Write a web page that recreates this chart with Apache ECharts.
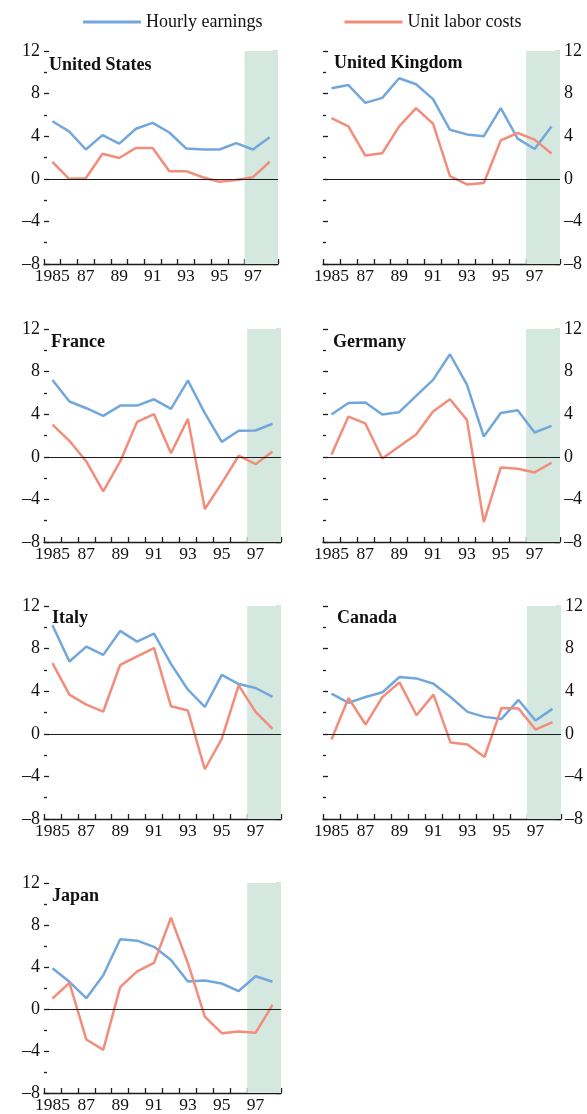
<!DOCTYPE html>
<html>
<head>
<meta charset="utf-8">
<script src="https://cdn.jsdelivr.net/npm/echarts@6/dist/echarts.min.js"></script>
<style>
  html, body { margin: 0; padding: 0; background: #ffffff; }
  #chart { width: 587px; height: 1114px; }
</style>
</head>
<body>
<div id="chart"></div>
<script>
// Annual percent change, 1985–98; the last two years are shaded as projections.
const years = ['1985', '86', '87', '88', '89', '90', '91', '92', '93', '94', '95', '96', '97', '98'];
const countries = ['United States', 'United Kingdom', 'France', 'Germany', 'Italy', 'Canada', 'Japan'];
const seriesNames = ['Hourly earnings', 'Unit labor costs'];

const hourlyUS = [5.4, 4.45, 2.75, 4.1, 3.3, 4.7, 5.25, 4.35, 2.85, 2.75, 2.75, 3.35, 2.75, 3.9];
const unitLaborUS = [1.6, 0.0, 0.05, 2.35, 1.95, 2.9, 2.9, 0.7, 0.72, 0.15, -0.28, -0.12, 0.15, 1.6];

const hourlyUK = [8.5, 8.8, 7.13, 7.6, 9.44, 8.88, 7.48, 4.6, 4.17, 4.0, 6.63, 3.77, 2.8, 4.92];
const unitLaborUK = [5.7, 4.92, 2.18, 2.4, 4.92, 6.63, 5.17, 0.25, -0.53, -0.4, 3.6, 4.3, 3.68, 2.37];

const hourlyFR = [7.22, 5.19, 4.56, 3.84, 4.81, 4.81, 5.4, 4.5, 7.16, 4.1, 1.4, 2.44, 2.47, 3.1];
const unitLaborFR = [3.03, 1.5, -0.44, -3.25, -0.44, 3.28, 4.0, 0.34, 3.56, -4.9, -2.47, 0.1, -0.69, 0.5];

const hourlyDE = [3.97, 5.06, 5.1, 3.97, 4.19, 5.72, 7.22, 9.63, 6.78, 1.9, 4.12, 4.38, 2.28, 2.9];
const unitLaborDE = [0.19, 3.78, 3.13, -0.16, 0.97, 2.1, 4.25, 5.4, 3.47, -6.13, -1.0, -1.13, -1.47, -0.56];

const hourlyIT = [10.2, 6.79, 8.19, 7.41, 9.66, 8.66, 9.41, 6.57, 4.14, 2.52, 5.54, 4.67, 4.3, 3.46];
const unitLaborIT = [6.64, 3.68, 2.74, 2.09, 6.48, 7.26, 8.04, 2.59, 2.18, -3.33, -0.47, 4.55, 2.06, 0.47];

const hourlyCA = [3.77, 2.9, 3.46, 3.9, 5.33, 5.2, 4.7, 3.46, 2.06, 1.59, 1.4, 3.18, 1.25, 2.34];
const unitLaborCA = [-0.53, 3.36, 0.87, 3.46, 4.83, 1.74, 3.68, -0.81, -1.0, -2.18, 2.43, 2.37, 0.4, 1.09];

const hourlyJP = [3.89, 2.59, 1.03, 3.21, 6.64, 6.51, 5.92, 4.67, 2.62, 2.71, 2.43, 1.71, 3.12, 2.59];
const unitLaborJP = [1.0, 2.49, -2.9, -3.89, 2.09, 3.58, 4.39, 8.69, 4.36, -0.72, -2.3, -2.15, -2.27, 0.4];

const hourly = [hourlyUS, hourlyUK, hourlyFR, hourlyDE, hourlyIT, hourlyCA, hourlyJP];
const unitLabor = [unitLaborUS, unitLaborUK, unitLaborFR, unitLaborDE, unitLaborIT, unitLaborCA, unitLaborJP];

const yTickValues = [-8, -4, 0, 4, 8, 12];
const yTickLabels = ['\u20138', '\u20134', '0', '4', '8', '12'];
// projection band, in category slots (1997 and 1998)
const projectedFrom = 12;
const projectedTo = 14;

// panel placement (pixels)
const panels = [
  { left: 44,  top: 51,  width: 234, side: 'left',  titleLeft: 49,  titleTop: 56 },
  { left: 323, top: 51,  width: 237, side: 'right', titleLeft: 334, titleTop: 54 },
  { left: 44,  top: 329, width: 237, side: 'left',  titleLeft: 51,  titleTop: 333 },
  { left: 323, top: 329, width: 237, side: 'right', titleLeft: 333, titleTop: 333 },
  { left: 44,  top: 606, width: 237, side: 'left',  titleLeft: 52,  titleTop: 609 },
  { left: 323, top: 606, width: 238, side: 'right', titleLeft: 337, titleTop: 609 },
  { left: 44,  top: 883, width: 237, side: 'left',  titleLeft: 52,  titleTop: 887 }
];
const PANEL_HEIGHT = 213;

const FONT = '"Liberation Serif", "Times New Roman", Times, serif';
const INK = '#1c1c1c';
const BLUE = '#72a7dc';
const RED = '#f28d7b';
const SHADE = '#d4e8df';

const grid = [], xAxis = [], yAxis = [], series = [], title = [];

panels.forEach((p, i) => {
  grid.push({ left: p.left, top: p.top, width: p.width, height: PANEL_HEIGHT, containLabel: false });

  title.push({
    text: countries[i], left: p.titleLeft, top: p.titleTop, padding: 0,
    textStyle: { fontFamily: FONT, fontSize: 18, fontWeight: 'bold', color: '#111' }
  });

  // visible year axis along the bottom of the panel
  xAxis.push({
    type: 'category', gridIndex: i, data: years, boundaryGap: true,
    axisLine: { show: true, onZero: false, lineStyle: { color: INK, width: 1.3 } },
    axisTick: { show: true, inside: true, length: 5, interval: 0, lineStyle: { color: INK, width: 1.3 } },
    axisLabel: { interval: 1, margin: 3, color: '#111', fontFamily: FONT, fontSize: 17.5 },
    splitLine: { show: false }
  });
  // hidden slot axis used for the projection band
  xAxis.push({ type: 'value', gridIndex: i, min: 0, max: 14, show: false });

  const tickStyle = { color: INK, width: 1.3 };
  const labelled = {
    type: 'value', gridIndex: i, position: p.side, min: -8, max: 12, interval: 4,
    axisLine: { show: false, onZero: false },
    axisTick: { show: true, inside: true, length: 5, lineStyle: tickStyle },
    minorTick: { show: true, splitNumber: 2, length: 3, lineStyle: tickStyle },
    splitLine: { show: false }, minorSplitLine: { show: false },
    axisLabel: {
      show: true, margin: 4, color: '#111', fontFamily: FONT, fontSize: 18,
      formatter: v => yTickLabels[yTickValues.indexOf(v)]
    }
  };
  const opposite = Object.assign({}, labelled, {
    position: p.side === 'left' ? 'right' : 'left',
    axisLabel: { show: false }
  });
  yAxis.push(labelled, opposite);

  series.push({
    name: 'Projected', type: 'line', xAxisIndex: 2 * i + 1, yAxisIndex: 2 * i,
    data: [], silent: true, symbol: 'none',
    markArea: {
      silent: true, itemStyle: { color: SHADE },
      data: [[{ xAxis: projectedFrom }, { xAxis: projectedTo }]]
    },
    markLine: {
      silent: true, symbol: ['none', 'none'], label: { show: false },
      lineStyle: { color: INK, width: 1, type: 'solid' },
      emphasis: { disabled: true },
      data: [{ yAxis: 0 }]
    }
  });

  [[hourly[i], BLUE], [unitLabor[i], RED]].forEach(([vals, col], k) => {
    series.push({
      name: seriesNames[k], type: 'line', xAxisIndex: 2 * i, yAxisIndex: 2 * i,
      data: vals, symbol: 'none', smooth: false,
      itemStyle: { color: col },
      lineStyle: { color: col, width: 2.5 },
      emphasis: { disabled: true }
    });
  });
});

const chart = echarts.init(document.getElementById('chart'), null, { renderer: 'canvas' });
chart.setOption({
  animation: false,
  backgroundColor: '#ffffff',
  title,
  legend: {
    data: seriesNames, left: 83, top: 13, padding: 0,
    icon: 'rect', itemWidth: 58, itemHeight: 3, itemGap: 82,
    textStyle: { fontFamily: FONT, fontSize: 18, color: '#111' }
  },
  grid, xAxis, yAxis, series
});
</script>
</body>
</html>
